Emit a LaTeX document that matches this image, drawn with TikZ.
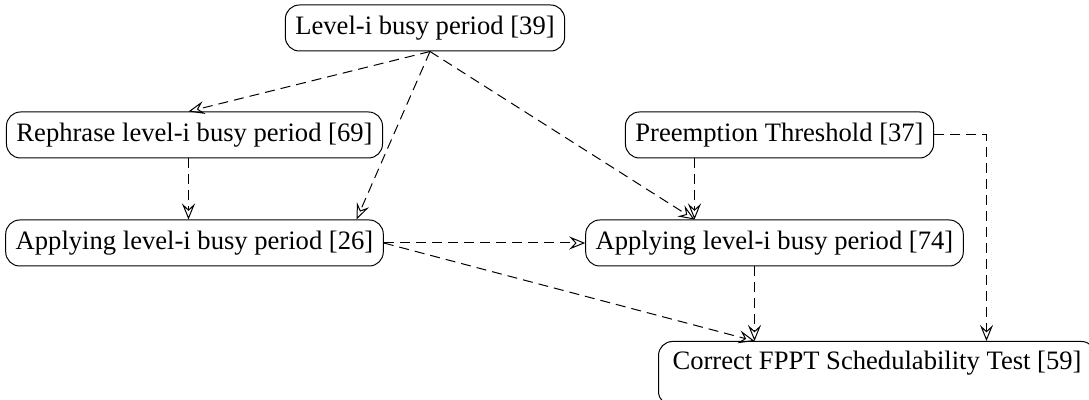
\documentclass[tikz,border=0pt]{standalone}
\usepackage{fontspec}
\setmainfont{Liberation Serif}
\usetikzlibrary{arrows.meta}
\tikzset{x=0.5pt, y=-0.5pt,
  paper/.style={draw, rounded corners=7pt, line width=0.5pt, inner xsep=5pt,
    minimum height=23pt, font=\fontsize{13.3}{16}\selectfont},
  cite/.style={draw, dash pattern=on 5pt off 3pt, line width=0.5pt,
    -{Stealth[open, length=8pt, width=6.5pt, inset=3pt]}}}

\begin{document}
\begin{tikzpicture}
                \useasboundingbox (0,0) rectangle (1089,400);
                \node[paper] (L39) at (425,28)    {Level-i busy period [39]};
                \node[paper] (R69) at (194.5,135) {Rephrase level-i busy period [69]};
                \node[paper] (P37) at (779.5,135) {Preemption Threshold [37]};
                \node[paper] (A26) at (194.5,243) {Applying level-i busy period [26]};
                \node[paper] (A74) at (774.5,243) {Applying level-i busy period [74]};
                \node[paper, anchor=north west, minimum width=218.5pt, minimum height=32pt,
                      inner xsep=7pt, text height=10pt, text depth=14pt] (C59) at (658,341)
                      {Correct FPPT Schedulability Test [59]};
                \draw[cite] ([xshift=2.5pt]L39.south) to ([xshift=-3pt]R69.north);
                \draw[cite] ([xshift=2.5pt]L39.south) to ([xshift=81pt]A26.north);
                \draw[cite] ([xshift=2.5pt]L39.south) to ([xshift=-40pt]A74.north);
                \draw[cite] ([xshift=-3pt]R69.south) to ([xshift=-3pt]A26.north);
                \draw[cite] ([xshift=-40pt]A74.north |- P37.south) to ([xshift=-40pt]A74.north);
                \draw[cite] (A26.east) to (A74.west);
                \draw[cite] (A26.east) to ([xshift=-10pt]A74.south |- C59.north);
                \draw[cite] ([xshift=-10pt]A74.south) to ([xshift=-10pt]A74.south |- C59.north);
                \draw[cite] (P37.east) -| ([xshift=54.75pt]C59.north);
              \end{tikzpicture}
\end{document}
